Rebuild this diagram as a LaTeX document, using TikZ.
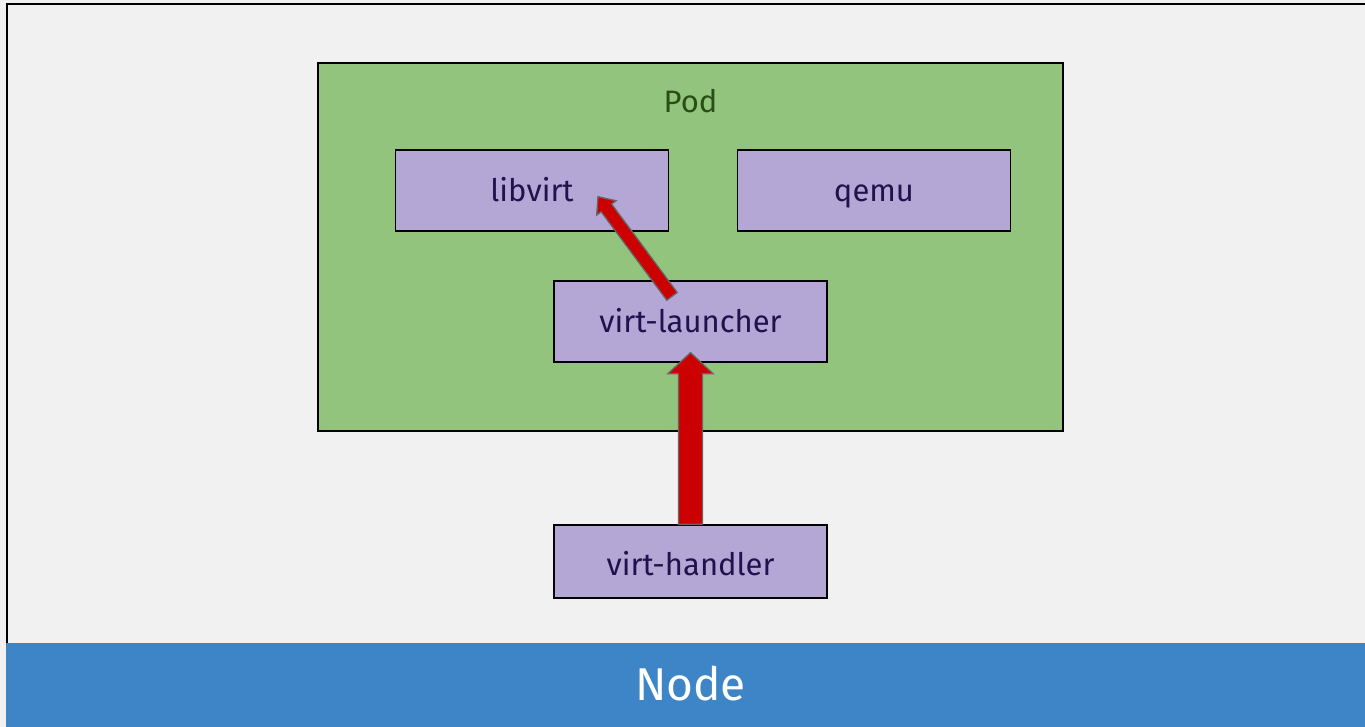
\documentclass[tikz,border=0pt]{standalone}
\usepackage{fontspec}
\setmainfont{Fira Sans}
\usetikzlibrary{calc}
\definecolor{bgc}{HTML}{F1F1F1}
\definecolor{podc}{HTML}{93C47D}
\definecolor{podtxt}{HTML}{274E13}
\definecolor{boxc}{HTML}{B4A7D6}
\definecolor{boxtxt}{HTML}{20124D}
\definecolor{nodec}{HTML}{3D85C6}
\definecolor{arrc}{HTML}{CC0000}
\definecolor{arrline}{HTML}{666666}
\newcommand\fatarrow[5]{%
  \coordinate (fa-h) at ($(#2)!#5!(#1)$);
  \path[fatarr] ($(#1)!#3!90:(#2)$) -- ($(fa-h)!#3!90:(#2)$) -- ($(fa-h)!#4!90:(#2)$) -- (#2)
    -- ($(fa-h)!#4!-90:(#2)$) -- ($(fa-h)!#3!-90:(#2)$) -- ($(#1)!#3!-90:(#2)$) -- cycle;
}
\tikzset{
  comp/.style={draw=black, line width=1.3pt, fill=boxc, text=boxtxt, minimum width=273pt, minimum height=81pt, inner sep=0pt, font=\fontsize{31}{34}\selectfont, text height=22.3pt, text depth=1pt},
  fatarr/.style={fill=arrc, draw=arrline, line width=1.3pt, line join=miter},
}
\begin{document}
\begin{tikzpicture}[x=1pt,y=-1pt]
\useasboundingbox (0,0) rectangle (1365,727);
\clip (0,0) rectangle (1365,727);
\fill[bgc] (0,0) rectangle (1365,727);
\draw[line width=2pt] (7,643) -- (7,4) -- (1400,4);
\fill[nodec] (6,643) rectangle (1365,727);
\node[text=white, font=\fontsize{46}{50}\selectfont] (nodelbl) at (690.5,684) {Node};
\node[draw=black, line width=1.3pt, fill=podc, minimum width=745pt, minimum height=368pt, inner sep=0pt] (pod) at (690.5,247) {};
\node[text=podtxt, font=\fontsize{31}{34}\selectfont] (podlbl) at (690.5,101) {Pod};
\node[comp] (libvirt) at (532,190.5) {libvirt};
\node[comp] (qemu) at (874,190.5) {qemu};
\node[comp] (launcher) at (690.5,321.5) {virt-launcher};
\node[comp, minimum height=73pt, text height=28pt] (handler) at (690.5,561.5) {virt-handler};
\coordinate (a1s) at ($(launcher.north)+(-18.5,16)$);
\coordinate (a1e) at ($(libvirt.south)+(66,-35)$);
\fatarrow{a1s}{a1e}{6.5pt}{12pt}{14pt}
\coordinate (a2s) at (handler.north);
\coordinate (a2e) at ($(launcher.south)+(0,-10)$);
\fatarrow{a2s}{a2e}{12pt}{22.5pt}{21pt}
\end{tikzpicture}
\end{document}
